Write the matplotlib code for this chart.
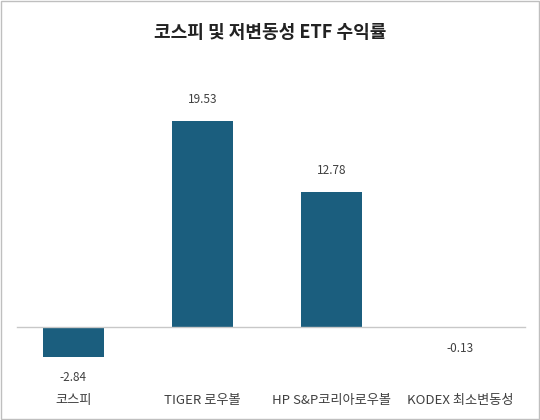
import matplotlib.pyplot as plt
import matplotlib.patches as mpatches

plt.rcParams['font.family'] = ['Noto Sans CJK KR', 'DejaVu Sans']

categories = ['코스피', 'TIGER 로우볼', 'HP S&P코리아로우볼', 'KODEX 최소변동성']
values = [-2.84, 19.53, 12.78, -0.13]
title = '코스피 및 저변동성 ETF 수익률'
bar_color = '#1b5e7e'

fig = plt.figure(figsize=(5.4, 4.2), dpi=100)
fig.patches.append(mpatches.Rectangle((0.002, 0.002), 0.996, 0.996, transform=fig.transFigure,
                                      fill=False, edgecolor='#bfbfbf', linewidth=1))
ax = fig.add_axes([10 / 540, 40 / 420, 520 / 540, 300 / 420])
x = range(len(categories))
ax.bar(x, values, width=0.47, color=bar_color)
ax.set_xlim(-0.49, 3.54)
ax.set_ylim(-5.02, 23.4)
ax.axhline(0, xmin=0.013, xmax=0.99, color='#c8c8c8', linewidth=1)
ax.axis('off')

for i, v in enumerate(values):
    if v >= 0:
        ax.text(i, v + 2.0, f'{v:.2f}', ha='center', va='center', fontsize=8.5, color='#404040')
    else:
        ax.text(i, v - 1.9, f'{v:.2f}', ha='center', va='center', fontsize=8.5, color='#404040')
    ax.text(i, -6.92, categories[i], ha='center', va='center', fontsize=9.5,
            color='#404040', clip_on=False)

fig.text(0.5, 1 - 32 / 420, title, ha='center', va='center', fontsize=13,
         fontweight='bold', color='#222222')

fig.savefig('out.png', dpi=100)
